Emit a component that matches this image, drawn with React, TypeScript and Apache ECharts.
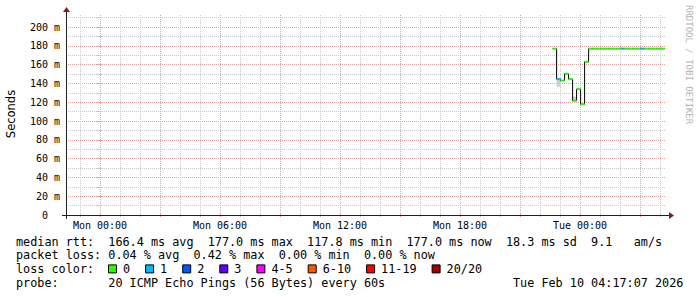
import React, { useEffect, useRef } from 'react';
import * as echarts from 'echarts';

const MONO = "'DejaVu Sans Mono', monospace";
const SANS = "'DejaVu Sans', sans-serif";

// x axis: hours relative to Mon 00:00 (last 30 hours)
const X_MIN = -1.7;
const X_MAX = 28.3;
const X_LABEL_HOURS = [0, 6, 12, 18, 24];
const X_LABELS = ['Mon 00:00', 'Mon 06:00', 'Mon 12:00', 'Mon 18:00', 'Tue 00:00'];
const X_MAJOR_HOURS = [0, 3, 6, 9, 12, 15, 18, 21, 24, 27];
const X_MINOR_HOURS = [-1, 1, 2, 4, 5, 7, 8, 10, 11, 13, 14, 16, 17, 19, 20, 22, 23, 25, 26, 28];

// y axis: milliseconds
const Y_MAX = 212.77;
const Y_LABEL_VALUES = [0, 20, 40, 60, 80, 100, 120, 140, 160, 180, 200];
const Y_MINOR_VALUES = [10, 30, 50, 70, 90, 110, 130, 150, 170, 190, 210];

// samples (step start in hours rel. Mon 00:00, step length in hours)
const STEP_START = 22.63;
const STEP_HOURS = 0.2;
const MEDIAN_RTT = [
  177.0, 144.5, 143.0, 150.3, 144.5, 121.6, 134.0, 117.8, 163.0,
  177.0, 177.0, 177.0, 177.0, 177.0, 177.0, 177.0, 177.0, 177.0, 177.0,
  177.0, 177.0, 177.0, 177.0, 177.0, 177.0, 177.0, 177.0, 177.0,
];
const LOSS = [
  0, 1, 0, 0, 0, 0, 0, 0, 0,
  0, 0, 0, 0, 0, 0, 0, 0, 1, 0,
  0, 0, 0, 1, 0, 0, 0, 0, 0,
];
const SMOKE_STEPS = [1, 5];
const SMOKE_LO = [136.5, 121.6];
const SMOKE_HI = [144.5, 126.0];

const LOSS_LABELS = ['0', '1', '2', '3', '4-5', '6-10', '11-19', '20/20'];
const LOSS_COLORS = ['#26ff00', '#00b8ff', '#0059ff', '#5e00ff', '#ff00ff', '#ff5500', '#ff0000', '#a10000'];

// legend statistics
const RTT_STATS = ['166.4', '177.0', '117.8', '177.0', '18.3'];
const RTT_AM_S = '9.1';
const LOSS_STATS = ['0.04', '0.42', '0.00', '0.00'];
const PROBE_TEXT = '20 ICMP Echo Pings (56 Bytes) every 60s';
const DATE_TEXT = 'Tue Feb 10 04:17:07 2026';

const MAJOR_COLOR = '#eea0a0';
const MINOR_COLOR = '#c8c8c8';
const AXIS_COLOR = '#1f1f1f';
const ARROW_COLOR = '#801f1f';

function lossColorIndex(n: number): number {
  if (n <= 3) return n;
  if (n <= 5) return 4;
  if (n <= 10) return 5;
  if (n <= 19) return 6;
  return 7;
}

const LEG_X = 16;
const CW = 7.1;
const LEG_FS = 11.8;

function tokensAt(line: string, x0: number, y: number): any[] {
  const out: any[] = [];
  const re = /\S+/g;
  let m: RegExpExecArray | null;
  while ((m = re.exec(line)) !== null) {
    out.push({
      type: 'text',
      x: x0 + m.index * CW,
      y,
      silent: true,
      style: { text: m[0], fill: '#000', fontSize: LEG_FS, fontFamily: MONO, align: 'left', verticalAlign: 'middle' },
    });
  }
  return out;
}

export default function App() {
  const ref = useRef<HTMLDivElement>(null);

  useEffect(() => {
    if (!ref.current) return;
    const chart = echarts.init(ref.current, null, { renderer: 'svg' });

    const times = MEDIAN_RTT.map((_, i) => STEP_START + i * STEP_HOURS);
    const stepLine: number[][] = MEDIAN_RTT.map((v, i) => [times[i], v]);
    stepLine.push([times[times.length - 1] + STEP_HOURS, MEDIAN_RTT[MEDIAN_RTT.length - 1]]);
    const segData = MEDIAN_RTT.map((v, i) => [times[i], times[i] + STEP_HOURS, v, lossColorIndex(LOSS[i])]);
    const smokeData = SMOKE_STEPS.map((k, j) => [times[k], times[k] + STEP_HOURS, SMOKE_LO[j], SMOKE_HI[j]]);

    const line1 =
      `median rtt:  ${RTT_STATS[0]} ms avg  ${RTT_STATS[1]} ms max  ${RTT_STATS[2]} ms min  ${RTT_STATS[3]} ms now  ${RTT_STATS[4]} ms sd  ${RTT_AM_S}   am/s`;
    const line2 = `packet loss: ${LOSS_STATS[0]} % avg  ${LOSS_STATS[1]} % max  ${LOSS_STATS[2]} % min  ${LOSS_STATS[3]} % now`;
    const line4 = `probe:       ${PROBE_TEXT}`;

    const Y1 = 241.5, Y2 = 255.2, Y3 = 268.9, Y4 = 282.6;
    const graphics: any[] = [];
    graphics.push(...tokensAt(line1, LEG_X, Y1));
    graphics.push(...tokensAt(line2, LEG_X, Y2));
    graphics.push(...tokensAt('loss color:', LEG_X, Y3));
    graphics.push(...tokensAt(line4, LEG_X, Y4));
    graphics.push(...tokensAt(DATE_TEXT, 513, Y4));
    let sx = 108;
    LOSS_LABELS.forEach((lab, i) => {
      graphics.push({
        type: 'rect', silent: true,
        shape: { x: sx + 0.5, y: Y3 - 4, width: 8, height: 8 },
        style: { fill: LOSS_COLORS[i], stroke: '#000', lineWidth: 1 },
      });
      graphics.push(...tokensAt(lab, sx + 15, Y3));
      sx = sx + 15 + lab.length * CW + 15;
    });

    // y-axis title
    graphics.push({
      type: 'text', x: 11, y: 114, rotation: Math.PI / 2, silent: true,
      style: { text: 'Seconds', fill: '#000', fontSize: 11.5, fontFamily: SANS, align: 'center', verticalAlign: 'middle' },
    });
    // watermark
    graphics.push({
      type: 'text', x: 689, y: 5, rotation: -Math.PI / 2, silent: true,
      style: { text: 'RRDTOOL / TOBI OETIKER', fill: '#b4b4b4', fontSize: 9, fontFamily: MONO, align: 'left', verticalAlign: 'middle' },
    });
    // axes with arrows
    graphics.push({ type: 'line', silent: true, z: 100, shape: { x1: 62, y1: 215.5, x2: 670, y2: 215.5 }, style: { stroke: AXIS_COLOR, lineWidth: 1 } });
    graphics.push({ type: 'polygon', silent: true, z: 100, shape: { points: [[669, 212], [669, 219], [674, 215.5]] }, style: { fill: ARROW_COLOR } });
    graphics.push({ type: 'line', silent: true, z: 100, shape: { x1: 66.5, y1: 219, x2: 66.5, y2: 11 }, style: { stroke: AXIS_COLOR, lineWidth: 1 } });
    graphics.push({ type: 'polygon', silent: true, z: 100, shape: { points: [[63, 12], [70, 12], [66.5, 7]] }, style: { fill: ARROW_COLOR } });

    const gridLine = (color: string) => ({ show: true, lineStyle: { color, width: 1, type: [1, 1] } });
    const hidden = { show: false };

    const xBase = { type: 'value', min: X_MIN, max: X_MAX, axisLine: hidden };
    const yBase = { type: 'value', min: 0, max: Y_MAX, axisLine: hidden };

    const option: any = {
      animation: false,
      backgroundColor: '#ffffff',
      grid: { left: 66, right: 31, top: 15, bottom: 82, containLabel: false },
      xAxis: [
        {
          ...xBase, position: 'bottom',
          axisTick: { show: true, length: 2, customValues: X_MAJOR_HOURS, lineStyle: { color: MAJOR_COLOR } },
          axisLabel: {
            show: true, customValues: X_LABEL_HOURS, margin: 5,
            formatter: (v: number) => X_LABELS[X_LABEL_HOURS.indexOf(v)] ?? '',
            fontFamily: MONO, fontSize: 10, color: '#000',
          },
          splitLine: gridLine(MAJOR_COLOR),
        },
        {
          ...xBase, position: 'bottom',
          axisTick: { show: true, length: 2, customValues: X_MINOR_HOURS, lineStyle: { color: MINOR_COLOR } },
          axisLabel: hidden,
          splitLine: gridLine(MINOR_COLOR),
        },
        {
          ...xBase, position: 'top',
          axisTick: { show: true, length: 2, customValues: X_MAJOR_HOURS, lineStyle: { color: MAJOR_COLOR } },
          axisLabel: hidden, splitLine: hidden,
        },
        {
          ...xBase, position: 'top',
          axisTick: { show: true, length: 2, customValues: X_MINOR_HOURS, lineStyle: { color: MINOR_COLOR } },
          axisLabel: hidden, splitLine: hidden,
        },
      ],
      yAxis: [
        {
          ...yBase, position: 'left',
          axisTick: { show: true, length: 3, customValues: Y_LABEL_VALUES, lineStyle: { color: MAJOR_COLOR } },
          axisLabel: {
            show: true, customValues: Y_LABEL_VALUES, margin: 6,
            formatter: (v: number) => (v === 0 ? '{z|0}' : `${v} m`),
            fontFamily: MONO, fontSize: 10, color: '#000',
            rich: { z: { padding: [0, 12, 0, 0], fontFamily: MONO, fontSize: 10, color: '#000' } },
          },
          splitLine: gridLine(MAJOR_COLOR),
        },
        {
          ...yBase, position: 'left',
          axisTick: { show: true, length: 3, customValues: Y_MINOR_VALUES, lineStyle: { color: MINOR_COLOR } },
          axisLabel: hidden,
          splitLine: gridLine(MINOR_COLOR),
        },
        {
          ...yBase, position: 'right',
          axisTick: { show: true, length: 2, customValues: Y_LABEL_VALUES, lineStyle: { color: MAJOR_COLOR } },
          axisLabel: hidden, splitLine: hidden,
        },
        {
          ...yBase, position: 'right',
          axisTick: { show: true, length: 2, customValues: Y_MINOR_VALUES, lineStyle: { color: MINOR_COLOR } },
          axisLabel: hidden, splitLine: hidden,
        },
      ],
      series: [
        {
          type: 'custom', name: 'smoke', xAxisIndex: 0, yAxisIndex: 0,
          data: smokeData, encode: { x: [0, 1], y: [2, 3] },
          renderItem: (_p: any, api: any) => {
            const a = api.coord([api.value(0), api.value(3)]);
            const b = api.coord([api.value(1), api.value(2)]);
            return { type: 'rect', shape: { x: a[0], y: a[1], width: b[0] - a[0], height: b[1] - a[1] }, style: { fill: '#cfcfcf' } };
          },
          z: 1,
        },
        {
          type: 'line', name: 'median', xAxisIndex: 0, yAxisIndex: 0,
          data: stepLine, step: 'end', showSymbol: false, symbol: 'none',
          lineStyle: { color: '#000000', width: 1 }, z: 2,
        },
        {
          type: 'custom', name: 'loss', xAxisIndex: 0, yAxisIndex: 0,
          data: segData, encode: { x: [0, 1], y: 2 },
          renderItem: (_p: any, api: any) => {
            const a = api.coord([api.value(0), api.value(2)]);
            const b = api.coord([api.value(1), api.value(2)]);
            return { type: 'line', shape: { x1: a[0], y1: a[1], x2: b[0], y2: b[1] }, style: { stroke: LOSS_COLORS[api.value(3)], lineWidth: 2 } };
          },
          z: 3,
        },
      ],
      graphic: graphics,
    };

    chart.setOption(option);
    return () => chart.dispose();
  }, []);

  return <div ref={ref} style={{ position: 'fixed', left: 0, top: 0, width: 697, height: 297, background: '#fff' }} />;
}
